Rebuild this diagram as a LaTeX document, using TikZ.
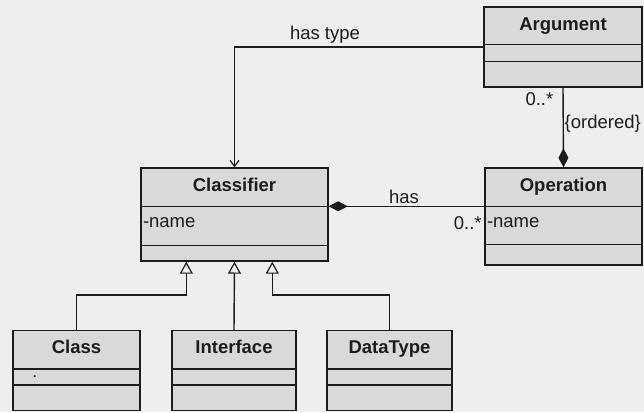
\documentclass[tikz,border=0pt]{standalone}
\usepackage{fontspec}
\setmainfont{Liberation Sans}
\usetikzlibrary{arrows.meta,calc}
\definecolor{bgc}{HTML}{EEEEEE}
\definecolor{boxc}{HTML}{D9D9D9}
\definecolor{inkc}{HTML}{1C1C1C}
\begin{document}
\begin{tikzpicture}[x=1pt,y=-1pt,
  line width=1.4pt,
  txt/.style={font=\fontsize{18.5}{21}\selectfont, text=inkc, inner sep=1pt},
  ttl/.style={font=\fontsize{18.5}{21}\selectfont\bfseries, text=inkc, inner sep=1pt, anchor=base},
  umlbox/.style={draw=inkc, fill=boxc, rectangle, inner sep=0pt},
  conn/.style={draw=inkc, line width=1.4pt},
  divider/.style={draw=inkc, line width=1.4pt}]
\fill[bgc] (0,0) rectangle (644,412);
\useasboundingbox (0,0) rectangle (644,412);

% boxes
\node[umlbox, minimum width=158, minimum height=80] (arg) at (563,47) {};
\node[umlbox, minimum width=157, minimum height=97] (op) at (563.5,216.5) {};
\node[umlbox, minimum width=187, minimum height=93] (cls) at (234.5,214.5) {};
\node[umlbox, minimum width=127, minimum height=80] (klass) at (76.5,370.5) {};
\node[umlbox, minimum width=124, minimum height=80] (iface) at (234,370.5) {};
\node[umlbox, minimum width=125, minimum height=80] (dtype) at (389.5,370.5) {};

% dividers
\draw[divider] ($(arg.north west)+(0,38)$) -- ($(arg.north east)+(0,38)$);
\draw[divider] ($(arg.north west)+(0,55)$) -- ($(arg.north east)+(0,55)$);
\draw[divider] ($(op.north west)+(0,39)$) -- ($(op.north east)+(0,39)$);
\draw[divider] ($(op.north west)+(0,77)$) -- ($(op.north east)+(0,77)$);
\draw[divider] ($(cls.north west)+(0,39)$) -- ($(cls.north east)+(0,39)$);
\draw[divider] ($(cls.north west)+(0,78)$) -- ($(cls.north east)+(0,78)$);
\foreach \b in {klass,iface,dtype}{
  \draw[divider] ($(\b.north west)+(0,39)$) -- ($(\b.north east)+(0,39)$);
  \draw[divider] ($(\b.north west)+(0,55)$) -- ($(\b.north east)+(0,55)$);
}

% titles
\node[ttl] (argT) at ($(arg.north)+(0,24)$) {Argument};
\node[ttl] (opT) at ($(op.north)+(0,24)$) {Operation};
\node[ttl] (clsT) at ($(cls.north)+(0,24)$) {Classifier};
\node[ttl] (klassT) at ($(klass.north)+(0,24)$) {Class};
\node[ttl] (ifaceT) at ($(iface.north)+(0,24)$) {Interface};
\node[ttl] (dtypeT) at ($(dtype.north)+(0,24)$) {DataType};

% attributes
\node[txt, anchor=west] (clsA) at ($(cls.north west)+(1,55)$) {-name};
\node[txt, anchor=west] (opA) at ($(op.north west)+(1,55)$) {-name};
\node[txt, anchor=base west, font=\fontsize{12}{12}\selectfont\bfseries] (klassA) at ($(klass.north west)+(19,48)$) {.};

% has type association
\draw[conn, -{Straight Barb[length=6,width=9,line width=1.2pt]}] (arg.west) -| (cls.north);
\node[txt] (hastype) at (325,35) {has type};

% argument - operation composition
\draw[conn, {Diamond[length=19,width=10,fill=inkc]}-] (op.north) -- (arg.south);
\node[txt, anchor=east] (m1) at ($(arg.south)+(-8,11)$) {0..*};
\node[txt, anchor=west] (ordered) at ($(arg.south)+(0,36)$) {\{ordered\}};

% has composition
\coordinate (hasL) at ($(cls.north east)+(0,39)$);
\draw[conn, {Diamond[length=19,width=10,fill=inkc]}-] (hasL) -- (hasL -| op.west);
\node[txt] (has) at (404,197) {has};
\node[txt, anchor=east] (m2) at ($(op.north west)+(-1,56)$) {0..*};

% generalizations
\coordinate (g1) at ($(cls.south west)+(46,0)$);
\coordinate (g2) at (cls.south);
\coordinate (g3) at ($(cls.south west)+(132,0)$);
\tikzset{gen/.style={conn, -{Triangle[open,length=12,width=13,line width=1.2pt]}}}
\draw[gen] (klass.north) |- (76.5,295) -| (g1);
\draw[gen] (iface.north) -- (g2);
\draw[gen] (dtype.north) |- (389.5,295) -| (g3);
\end{tikzpicture}
\end{document}
